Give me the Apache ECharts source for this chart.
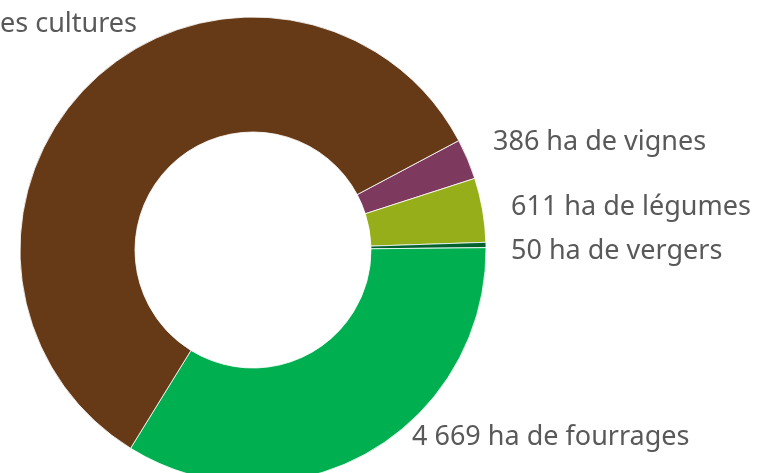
<!DOCTYPE html>
<html>
<head>
<meta charset="utf-8">
<script src="https://cdn.jsdelivr.net/npm/echarts@6/dist/echarts.min.js"></script>
<style>
  html, body { margin: 0; padding: 0; background: #fff; }
  #chart { width: 760px; height: 473px; }
</style>
</head>
<body>
<div id="chart"></div>
<script>
// surfaces (ha), clockwise from the vignes slice
const names = ["vignes", "légumes", "vergers", "fourrages", "grandes cultures"];
const values = [386, 611, 50, 4669, 8030];
const colors = ["#7E3A5E", "#95AE19", "#00612F", "#00B050", "#673A17"];

// label anchors (left/right edge x, middle y)
const labelPos = [
  { x: 493, y: 142, align: "left" },
  { x: 511, y: 207, align: "left" },
  { x: 511, y: 251, align: "left" },
  { x: 412, y: 437, align: "left" },
  { x: 137, y: 24, align: "right" },
];

function fmt(v) {
  return String(v).replace(/\B(?=(\d{3})+(?!\d))/g, " ");
}

const chart = echarts.init(document.getElementById("chart"));
chart.setOption({
  animation: false,
  series: [
    {
      type: "pie",
      center: [253, 250],
      radius: [118, 233],
      startAngle: 28,
      clockwise: true,
      avoidLabelOverlap: false,
      itemStyle: { borderColor: "#fff", borderWidth: 0.8 },
      label: {
        show: true,
        position: "outside",
        color: "#595959",
        fontFamily: "Noto Sans",
        fontSize: 27,
        formatter: (p) => fmt(p.value) + " ha de " + p.name,
      },
      labelLine: { show: false },
      labelLayout: (p) => {
        const pos = labelPos[p.dataIndex];
        return { x: pos.x, y: pos.y, align: pos.align, verticalAlign: "middle" };
      },
      data: names.map((n, i) => ({
        name: n,
        value: values[i],
        itemStyle: { color: colors[i] },
      })),
    },
  ],
});
</script>
</body>
</html>
